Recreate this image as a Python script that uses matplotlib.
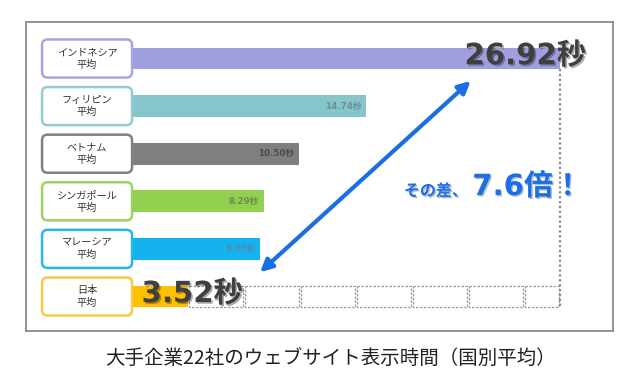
import numpy as np
import matplotlib.pyplot as plt
import matplotlib.patheffects as pe
from matplotlib.patches import FancyBboxPatch, Rectangle

plt.rcParams['font.family'] = ['Noto Sans CJK JP', 'DejaVu Sans']
num_font = ['DejaVu Sans', 'Noto Sans CJK JP']

# data
countries = ['インドネシア', 'フィリピン', 'ベトナム', 'シンガポール', 'マレーシア', '日本']
seconds = [26.92, 14.74, 10.50, 8.29, 8.05, 3.52]
bar_colors = ['#a09fde', '#86c5cb', '#7f7f7f', '#92d050', '#14b2ee', '#ffc000']
edge_colors = ['#a8a4df', '#93cbcf', '#808080', '#9ad35e', '#2ab5ea', '#f7c84a']
ratio_text = '7.6倍！'
title = '大手企業22社のウェブサイト表示時間（国別平均）'

fig = plt.figure(figsize=(6.4, 3.92), dpi=100)
ax = fig.add_axes([26/640, 1-331/392, 587/640, 309/392])
ax.set_xlim(-6.67, 30.25)
ax.set_ylim(5.725, -0.767)
ax.set_xticks([])
ax.set_yticks([])
for s in ax.spines.values():
    s.set_color('#8a8a8a')
    s.set_linewidth(1.3)

y = np.arange(len(countries))
ax.barh(y, seconds, height=0.46, color=bar_colors, zorder=2)

# label boxes
for i, (name, ec) in enumerate(zip(countries, edge_colors)):
    box = FancyBboxPatch((-5.66, i - 0.4), 5.66, 0.8,
                         boxstyle='round,pad=0,rounding_size=0.35',
                         mutation_aspect=0.33, fc='white', ec=ec, lw=1.8, zorder=4)
    ax.add_patch(box)
    ax.text(-2.83, i, name + '\n平均', ha='center', va='center', fontsize=7.3,
            color='#333333', linespacing=1.3, zorder=5)

# small value labels
small_colors = {1: '#6f8f92', 2: '#4a4a4a', 3: '#6a8f48', 4: '#4d8eb0'}
for i, c in small_colors.items():
    ax.text(seconds[i] - 0.3, i, f'{seconds[i]:.2f}秒', ha='right', va='center',
            fontsize=6.3, fontweight='bold', color=c, zorder=3, family=num_font)

# japan-sized cells
jp = seconds[-1]
start = jp
while start < seconds[0] - 1e-6:
    w = min(jp, seconds[0] - start)
    ax.add_patch(Rectangle((start + 0.05, 5 - 0.22), w - 0.1, 0.44, fill=False,
                           ec='#9a9a9a', lw=0.9, ls=(0, (2, 1.2)), zorder=2))
    start += jp
ax.plot([seconds[0], seconds[0]], [0.23, 5.22], color='#8a8a8a', lw=1.6,
        ls=(0, (1, 1.2)), zorder=2)

shadow = [pe.withSimplePatchShadow(offset=(1.2, -1.2), alpha=0.35)]
ax.text(seconds[0] + 1.6, -0.05, f'{seconds[0]:.2f}秒', ha='right', va='center',
        fontsize=21, fontweight='bold', color='#3f3f3f', zorder=6,
        family=num_font, path_effects=shadow)
ax.text(0.6, 4.95, f'{seconds[-1]:.2f}秒', ha='left', va='center',
        fontsize=21, fontweight='bold', color='#3f3f3f', zorder=6,
        family=num_font, path_effects=shadow)

# arrow
ax.annotate('', xy=(21.3, 0.47), xytext=(8.05, 4.49),
            arrowprops=dict(arrowstyle='<|-|>', color='#1a6ee6', lw=3,
                            mutation_scale=18, shrinkA=0, shrinkB=0), zorder=5)

blue_shadow = [pe.withSimplePatchShadow(offset=(1, -1), alpha=0.3)]
ax.text(17.1, 2.78, 'その差、', ha='left', va='center', fontsize=11.5,
        fontweight='bold', color='#1a6ee6', zorder=6, path_effects=blue_shadow)
ax.text(21.4, 2.7, ratio_text, ha='left', va='center', fontsize=21,
        fontweight='bold', color='#1a6ee6', zorder=6, family=num_font,
        path_effects=blue_shadow)

fig.text(330/640, 1-358/392, title, ha='center', va='center', fontsize=14,
         color='#222222')

fig.savefig('out.png', dpi=100)
